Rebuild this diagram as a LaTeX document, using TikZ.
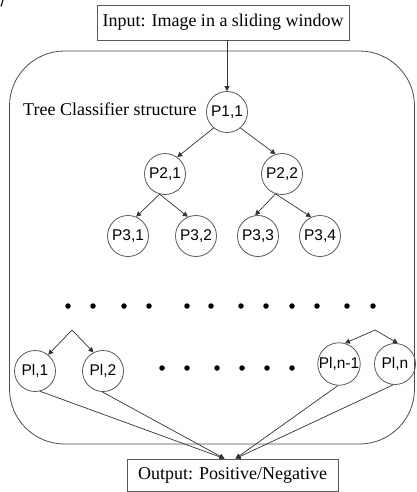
\documentclass[tikz,border=0pt]{standalone}
\usepackage{fontspec}
\setmainfont{Liberation Serif}
\newfontfamily\arialf{Liberation Sans}
\usetikzlibrary{arrows.meta,calc}
\begin{document}
\begin{tikzpicture}[x=1pt,y=-1pt,
  pnode/.style={circle,draw=black!65,line width=0.8pt,minimum size=41pt,inner sep=0pt,
                font=\arialf\fontsize{15.5}{16}\selectfont},
  tbox/.style={draw=black!65,line width=0.8pt,inner sep=0pt,font=\fontsize{18}{20}\selectfont},
  arr/.style={draw=black!80,line width=0.7pt,-{Triangle[length=5pt,width=5pt]}},
  dotp/.style={circle,fill=black,inner sep=0pt,minimum size=5.5pt}]
\useasboundingbox (0,0) rectangle (416,492);
% stray mark
\draw[line width=1.1pt] (1,6.5) -- (3,0);
% frame
\draw[draw=black!70,line width=0.8pt,rounded corners=55pt] (9.5,51) rectangle (414.5,444);
% boxes
\node[tbox,minimum width=252pt,minimum height=35pt] (in) at (223,22.5) {Input: Image in a sliding window};
\node[tbox,minimum width=211pt,minimum height=32pt] (out) at (232.5,475) {Output: Positive/Negative};
\node[anchor=base west,inner sep=0pt,font=\fontsize{18}{20}\selectfont] (title) at (23,116) {Tree Classifier structure};
% tree nodes
\node[pnode] (p11) at (227,112) {P1,1};
\node[pnode] (p21) at (165,174) {P2,1};
\node[pnode] (p22) at (282,174) {P2,2};
\node[pnode] (p31) at (128,236) {P3,1};
\node[pnode] (p32) at (196,236) {P3,2};
\node[pnode] (p33) at (258,236) {P3,3};
\node[pnode] (p34) at (320,236) {P3,4};
\node[pnode] (pl1) at (35,371) {Pl,1};
\node[pnode] (pl2) at (103,371) {Pl,2};
\node[pnode] (pln1) at (339,364) {Pl,n-1};
\node[pnode] (pln) at (395,364) {Pl,n};
% dots
\foreach \x [count=\i] in {68,93,124,149,187,211,241,266,292,317,347,373}
  \node[dotp] (da\i) at (\x,306) {};
\foreach \x [count=\i] in {162,187,217,242,267,292}
  \node[dotp] (db\i) at (\x,368) {};
% connectors
\draw[arr] (in.south -| p11.north) -- (p11.north);
\draw[arr] (p11.-130) -- (p21.54);
\draw[arr] (p11.-50) -- (p22.108);
\draw[arr] (p21.-105) -- (p31.67);
\draw[arr] (p21.-105) -- (p32.113);
\draw[arr] (p22.-108) -- (p33.98);
\draw[arr] (p22.-108) -- (p34.115);
\coordinate (la) at (72,330);
\coordinate (ra) at (375,330);
\draw[arr] (la) -- (pl1.51);
\draw[arr] (la) -- (pl2.117);
\draw[arr] (ra) -- (pln1.74);
\draw[arr] (ra) -- (pln.82);
\coordinate (o1) at ($(out.north)+(-8,0)$);
\coordinate (o2) at ($(out.north)+(3,0)$);
\draw[arr] (pl1.-76) -- (o1);
\draw[arr] (pl2.-92) -- (o1);
\draw[arr] (pln1.-93) -- (o2);
\draw[arr] (pln.-95) -- (o2);
\end{tikzpicture}
\end{document}
